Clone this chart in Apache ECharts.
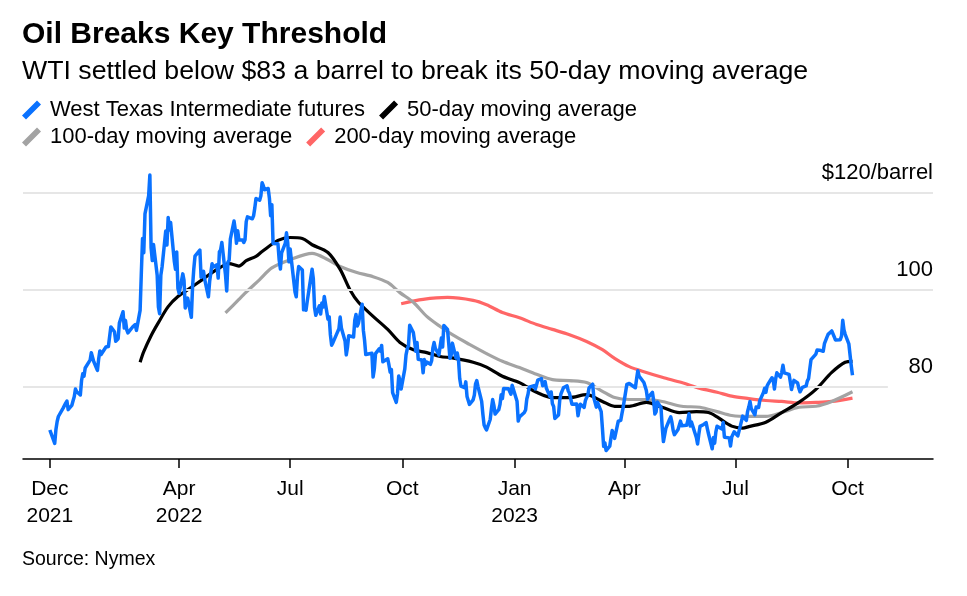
<!DOCTYPE html>
<html>
<head>
<meta charset="utf-8">
<script src="https://cdn.jsdelivr.net/npm/echarts@6/dist/echarts.min.js"></script>
<style>
html,body{margin:0;padding:0;background:#fff;}
#chart{width:967px;height:596px;}
</style>
</head>
<body>
<div id="chart"></div>
<script>
const FONT = "'Liberation Sans', Arial, sans-serif";
const titleText = 'Oil Breaks Key Threshold';
const subtitleText = 'WTI settled below $83 a barrel to break its 50-day moving average';
const sourceText = 'Source: Nymex';
const seriesNames = ['West Texas Intermediate futures', '50-day moving average', '100-day moving average', '200-day moving average'];

// x-axis ticks and labels
const xTickDates = ['2021-12-16','2022-04-01','2022-07-01','2022-10-01','2023-01-01','2023-04-01','2023-07-01','2023-10-01'];
const xTickLabels = ['Dec\n2021','Apr\n2022','Jul','Oct','Jan\n2023','Apr','Jul','Oct'];
const xAxisStart = '2021-11-24';
const xAxisEnd = '2023-12-10';
const gridShortEnd = '2023-11-03';
// y-axis ticks
const yTicks = [80, 100, 120];
const yMin = 65, yMax = 120;

// WTI daily settlements
const wtiDates = [
'2021-12-16','2021-12-17','2021-12-20','2021-12-21','2021-12-22','2021-12-23','2021-12-27','2021-12-28','2021-12-29','2021-12-30','2021-12-31',
'2022-01-03','2022-01-04','2022-01-05','2022-01-06','2022-01-07','2022-01-10','2022-01-11','2022-01-12','2022-01-13','2022-01-14','2022-01-18','2022-01-19','2022-01-20','2022-01-21','2022-01-24','2022-01-25','2022-01-26','2022-01-27','2022-01-28','2022-01-31',
'2022-02-01','2022-02-02','2022-02-03','2022-02-04','2022-02-07','2022-02-08','2022-02-09','2022-02-10','2022-02-11','2022-02-14','2022-02-15','2022-02-16','2022-02-17','2022-02-18','2022-02-22','2022-02-23','2022-02-24','2022-02-25','2022-02-28',
'2022-03-01','2022-03-02','2022-03-03','2022-03-04','2022-03-07','2022-03-08','2022-03-09','2022-03-10','2022-03-11','2022-03-14','2022-03-15','2022-03-16','2022-03-17','2022-03-18','2022-03-21','2022-03-22','2022-03-23','2022-03-24','2022-03-25','2022-03-28','2022-03-29','2022-03-30','2022-03-31',
'2022-04-01','2022-04-04','2022-04-05','2022-04-06','2022-04-07','2022-04-08','2022-04-11','2022-04-12','2022-04-13','2022-04-14','2022-04-18','2022-04-19','2022-04-20','2022-04-21','2022-04-22','2022-04-25','2022-04-26','2022-04-27','2022-04-28','2022-04-29',
'2022-05-02','2022-05-03','2022-05-04','2022-05-05','2022-05-06','2022-05-09','2022-05-10','2022-05-11','2022-05-12','2022-05-13','2022-05-16','2022-05-17','2022-05-18','2022-05-19','2022-05-20','2022-05-23','2022-05-24','2022-05-25','2022-05-26','2022-05-27','2022-05-31',
'2022-06-01','2022-06-02','2022-06-03','2022-06-06','2022-06-07','2022-06-08','2022-06-09','2022-06-10','2022-06-13','2022-06-14','2022-06-15','2022-06-16','2022-06-17','2022-06-21','2022-06-22','2022-06-23','2022-06-24','2022-06-27','2022-06-28','2022-06-29','2022-06-30',
'2022-07-01','2022-07-05','2022-07-06','2022-07-07','2022-07-08','2022-07-11','2022-07-12','2022-07-13','2022-07-14','2022-07-15','2022-07-18','2022-07-19','2022-07-20','2022-07-21','2022-07-22','2022-07-25','2022-07-26','2022-07-27','2022-07-28','2022-07-29',
'2022-08-01','2022-08-02','2022-08-03','2022-08-04','2022-08-05','2022-08-08','2022-08-09','2022-08-10','2022-08-11','2022-08-12','2022-08-15','2022-08-16','2022-08-17','2022-08-18','2022-08-19','2022-08-22','2022-08-23','2022-08-24','2022-08-25','2022-08-26','2022-08-29','2022-08-30','2022-08-31',
'2022-09-01','2022-09-02','2022-09-06','2022-09-07','2022-09-08','2022-09-09','2022-09-12','2022-09-13','2022-09-14','2022-09-15','2022-09-16','2022-09-19','2022-09-20','2022-09-21','2022-09-22','2022-09-23','2022-09-26','2022-09-27','2022-09-28','2022-09-29','2022-09-30',
'2022-10-03','2022-10-04','2022-10-05','2022-10-06','2022-10-07','2022-10-10','2022-10-11','2022-10-12','2022-10-13','2022-10-14','2022-10-17','2022-10-18','2022-10-19','2022-10-20','2022-10-21','2022-10-24','2022-10-25','2022-10-26','2022-10-27','2022-10-28','2022-10-31',
'2022-11-01','2022-11-02','2022-11-03','2022-11-04','2022-11-07','2022-11-08','2022-11-09','2022-11-10','2022-11-11','2022-11-14','2022-11-15','2022-11-16','2022-11-17','2022-11-18','2022-11-21','2022-11-22','2022-11-23','2022-11-25','2022-11-28','2022-11-29','2022-11-30',
'2022-12-01','2022-12-02','2022-12-05','2022-12-06','2022-12-07','2022-12-08','2022-12-09','2022-12-12','2022-12-13','2022-12-14','2022-12-15','2022-12-16','2022-12-19','2022-12-20','2022-12-21','2022-12-22','2022-12-23','2022-12-27','2022-12-28','2022-12-29','2022-12-30',
'2023-01-03','2023-01-04','2023-01-05','2023-01-06','2023-01-09','2023-01-10','2023-01-11','2023-01-12','2023-01-13','2023-01-17','2023-01-18','2023-01-19','2023-01-20','2023-01-23','2023-01-24','2023-01-25','2023-01-26','2023-01-27','2023-01-30','2023-01-31',
'2023-02-01','2023-02-02','2023-02-03','2023-02-06','2023-02-07','2023-02-08','2023-02-09','2023-02-10','2023-02-13','2023-02-14','2023-02-15','2023-02-16','2023-02-17','2023-02-21','2023-02-22','2023-02-23','2023-02-24','2023-02-27','2023-02-28',
'2023-03-01','2023-03-02','2023-03-03','2023-03-06','2023-03-07','2023-03-08','2023-03-09','2023-03-10','2023-03-13','2023-03-14','2023-03-15','2023-03-16','2023-03-17','2023-03-20','2023-03-21','2023-03-22','2023-03-23','2023-03-24','2023-03-27','2023-03-28','2023-03-29','2023-03-30','2023-03-31',
'2023-04-03','2023-04-04','2023-04-05','2023-04-06','2023-04-10','2023-04-11','2023-04-12','2023-04-13','2023-04-14','2023-04-17','2023-04-18','2023-04-19','2023-04-20','2023-04-21','2023-04-24','2023-04-25','2023-04-26','2023-04-27','2023-04-28',
'2023-05-01','2023-05-02','2023-05-03','2023-05-04','2023-05-05','2023-05-08','2023-05-09','2023-05-10','2023-05-11','2023-05-12','2023-05-15','2023-05-16','2023-05-17','2023-05-18','2023-05-19','2023-05-22','2023-05-23','2023-05-24','2023-05-25','2023-05-26','2023-05-30','2023-05-31',
'2023-06-01','2023-06-02','2023-06-05','2023-06-06','2023-06-07','2023-06-08','2023-06-09','2023-06-12','2023-06-13','2023-06-14','2023-06-15','2023-06-16','2023-06-20','2023-06-21','2023-06-22','2023-06-23','2023-06-26','2023-06-27','2023-06-28','2023-06-29','2023-06-30',
'2023-07-03','2023-07-05','2023-07-06','2023-07-07','2023-07-10','2023-07-11','2023-07-12','2023-07-13','2023-07-14','2023-07-17','2023-07-18','2023-07-19','2023-07-20','2023-07-21','2023-07-24','2023-07-25','2023-07-26','2023-07-27','2023-07-28','2023-07-31',
'2023-08-01','2023-08-02','2023-08-03','2023-08-04','2023-08-07','2023-08-08','2023-08-09','2023-08-10','2023-08-11','2023-08-14','2023-08-15','2023-08-16','2023-08-17','2023-08-18','2023-08-21','2023-08-22','2023-08-23','2023-08-24','2023-08-25','2023-08-28','2023-08-29','2023-08-30','2023-08-31',
'2023-09-01','2023-09-05','2023-09-06','2023-09-07','2023-09-08','2023-09-11','2023-09-12','2023-09-13','2023-09-14','2023-09-15','2023-09-18','2023-09-19','2023-09-20','2023-09-21','2023-09-22','2023-09-25','2023-09-26','2023-09-27','2023-09-28','2023-09-29',
'2023-10-02','2023-10-03','2023-10-04','2023-10-05'
];
const wtiValues = [
71.0,70.86,68.23,71.12,72.76,73.79,75.57,75.98,76.56,76.99,75.21,
76.08,76.99,77.85,79.46,78.90,78.23,81.22,82.64,82.12,83.82,85.43,86.96,86.90,85.14,83.31,85.60,87.35,86.61,86.82,88.15,
88.20,88.26,90.27,92.31,91.32,89.36,89.66,89.88,93.10,95.46,92.07,93.66,91.76,91.07,92.35,92.10,92.81,91.59,95.72,
103.41,110.60,107.67,115.68,119.40,123.70,108.70,106.02,109.33,103.01,96.44,95.04,102.98,104.70,112.12,109.27,114.93,112.34,113.90,105.96,104.24,107.82,100.28,
99.27,103.28,101.96,96.23,96.03,98.26,94.29,100.60,104.25,106.95,108.21,102.56,102.75,103.79,102.07,98.54,101.70,102.02,105.36,104.69,
105.17,102.41,107.81,108.26,109.77,103.09,99.76,105.71,106.13,110.49,114.20,112.40,109.59,112.21,110.28,110.29,109.77,110.33,114.09,115.07,114.67,
115.26,116.87,118.87,118.50,119.41,122.11,121.51,120.67,120.93,118.93,115.31,117.59,109.56,109.52,106.19,104.27,107.62,109.57,111.76,109.78,105.76,
108.43,99.50,98.53,102.73,104.79,104.09,95.84,96.30,95.78,97.59,102.60,104.22,102.26,96.35,94.70,96.70,94.98,97.26,96.42,98.62,
93.89,94.42,90.66,88.54,89.01,90.76,90.50,91.93,94.34,92.09,89.41,86.53,88.11,90.50,90.77,90.23,93.74,94.89,92.52,93.06,97.01,91.64,89.55,
86.61,86.87,86.88,81.94,83.54,86.79,87.78,87.31,88.48,85.10,85.11,85.73,84.45,82.94,83.49,78.74,76.71,78.50,82.15,81.23,79.49,
83.63,86.52,87.76,88.45,92.64,91.13,89.35,87.27,89.11,85.61,85.46,82.82,85.55,84.51,85.05,84.58,85.32,87.91,89.08,87.90,86.53,
88.37,90.00,88.17,92.61,91.79,88.91,85.83,86.47,88.96,85.87,86.92,85.59,81.64,80.08,79.73,80.95,77.94,76.28,77.24,78.20,80.55,
81.22,79.98,76.93,74.25,72.01,71.46,71.02,73.17,75.39,77.28,76.11,74.29,75.19,76.23,78.29,77.49,79.56,79.53,78.96,78.40,80.26,
76.93,72.84,73.67,73.77,74.63,75.12,77.41,78.39,79.86,80.18,79.48,80.33,81.31,81.62,80.13,80.15,81.01,79.68,77.90,78.87,
76.41,75.88,73.39,74.11,77.14,78.47,78.06,79.72,80.14,79.06,78.59,78.49,76.34,76.36,73.95,75.39,76.32,75.68,77.05,
77.69,78.16,79.68,80.46,77.58,76.66,75.72,76.68,74.80,71.33,67.61,68.35,66.74,67.64,69.33,70.90,69.96,69.26,72.81,73.20,72.97,74.37,75.67,
80.42,80.71,80.61,80.70,79.74,81.53,83.26,82.16,82.52,80.83,80.86,79.16,77.37,77.87,78.76,77.07,74.30,74.76,76.78,
75.66,71.66,68.60,68.56,71.34,73.16,73.71,72.56,70.87,70.04,71.11,70.86,72.83,71.86,71.55,71.99,72.91,74.34,71.83,72.67,69.46,68.09,
70.10,71.74,72.15,71.74,72.53,71.29,70.17,67.12,69.42,68.27,70.62,71.78,71.19,72.53,69.51,69.16,69.37,67.70,69.56,69.86,70.64,
69.79,71.79,71.80,73.86,72.99,74.83,75.75,76.89,75.42,74.15,75.75,75.35,75.63,77.07,78.74,79.63,78.78,80.09,80.58,81.80,
81.37,79.49,81.55,82.82,81.94,82.92,84.40,82.82,83.19,82.51,80.99,79.38,80.39,81.25,80.72,79.64,78.89,79.05,79.83,80.10,81.16,81.63,83.63,
85.55,86.69,87.54,87.87,87.51,87.29,88.84,88.52,90.16,90.77,91.48,91.20,90.28,89.63,90.03,89.68,90.39,93.68,91.71,90.79,
88.82,89.23,84.22,82.31
];

// Moving averages
const ma50Dates = ['2022-02-28','2022-03-03','2022-03-09','2022-03-15','2022-03-23','2022-03-31','2022-04-11','2022-04-20','2022-05-02','2022-05-12','2022-05-20','2022-05-26','2022-06-03','2022-06-08','2022-06-21','2022-07-01','2022-07-11','2022-07-19','2022-08-01','2022-08-11','2022-08-19','2022-08-26','2022-09-07','2022-09-19','2022-09-29','2022-10-10','2022-10-21','2022-11-01','2022-11-11','2022-11-28','2022-12-09','2022-12-22','2023-01-05','2023-01-19','2023-02-01','2023-02-15','2023-03-01','2023-03-14','2023-03-24','2023-04-05','2023-04-19','2023-05-02','2023-05-16','2023-05-30','2023-06-09','2023-06-16','2023-06-28','2023-07-07','2023-07-12','2023-07-26','2023-08-08','2023-08-22','2023-09-05','2023-09-18','2023-09-29','2023-10-05'];
const ma50Values = [85.0,87.2,90.5,93.2,96.5,98.6,100.5,102.1,104.2,105.4,104.9,106.0,106.9,107.9,110.2,110.8,110.6,109.3,107.7,104.2,100.0,97.4,94.5,91.8,89.1,87.6,87.0,86.2,85.9,85.0,84.0,82.1,80.8,78.8,77.7,77.7,78.3,76.9,75.9,75.9,76.7,75.7,74.6,74.8,74.6,73.7,71.8,71.4,71.7,72.6,74.6,76.7,79.4,82.9,85.0,85.2];

const ma100Dates = ['2022-05-09','2022-05-20','2022-05-26','2022-06-06','2022-06-16','2022-07-01','2022-07-19','2022-08-01','2022-08-11','2022-08-24','2022-09-07','2022-09-19','2022-09-29','2022-10-10','2022-10-21','2022-11-01','2022-11-11','2022-11-25','2022-12-09','2022-12-22','2023-01-05','2023-01-19','2023-02-01','2023-02-15','2023-03-01','2023-03-14','2023-03-24','2023-04-05','2023-04-19','2023-05-02','2023-05-18','2023-06-02','2023-06-16','2023-06-28','2023-07-12','2023-07-26','2023-08-08','2023-08-22','2023-09-05','2023-09-18','2023-10-05'];
const ma100Values = [95.2,98.0,99.5,102.1,104.5,106.2,107.5,106.2,104.8,103.6,102.7,101.5,99.4,97.4,94.5,92.4,90.7,88.7,86.8,85.2,83.9,82.5,81.4,81.2,80.8,79.0,77.7,77.3,77.3,76.9,75.9,75.7,74.8,74.0,73.8,73.8,74.6,75.7,75.9,76.9,78.9];

const ma200Dates = ['2022-09-30','2022-10-18','2022-11-07','2022-11-28','2022-12-09','2022-12-22','2023-01-05','2023-01-19','2023-02-01','2023-02-15','2023-03-01','2023-03-14','2023-03-24','2023-04-05','2023-04-19','2023-05-02','2023-05-18','2023-06-02','2023-06-16','2023-06-28','2023-07-12','2023-07-26','2023-08-08','2023-08-22','2023-09-05','2023-09-18','2023-10-05'];
const ma200Values = [97.1,98.0,98.4,97.8,96.9,95.3,94.2,92.8,91.8,90.7,89.3,87.6,85.8,84.1,82.9,81.9,80.8,79.6,78.8,78.0,77.5,77.1,76.9,76.6,76.7,76.9,77.6];

const colors = ['#0a72ff', '#000000', '#a3a3a3', '#ff6666'];

function ts(s) { const p = s.split('-').map(Number); return Date.UTC(p[0], p[1] - 1, p[2]); }
function zip(d, v) { return d.map((x, i) => [ts(x), v[i]]); }

const xTickTs = xTickDates.map(ts);
const ICON = 'path://M0,15 L15,0 L19,4 L4,19 Z M23,19 L23,19 Z';

const gridLines = yTicks.map(v => [
  { coord: [ts(xAxisStart), v] },
  { coord: [ts(v === yTicks[0] ? gridShortEnd : xAxisEnd), v] }
]);

const legendText = { fontSize: 22, color: '#000', fontFamily: FONT, lineHeight: 22 };

const option = {
  animation: false,
  backgroundColor: '#ffffff',
  textStyle: { fontFamily: FONT },
  title: [
    { text: titleText, left: 22, top: 19, padding: 0, textStyle: { fontSize: 30, fontWeight: 'bold', color: '#000', fontFamily: FONT, lineHeight: 32 } },
    { text: subtitleText, left: 22, top: 58, padding: 0, textStyle: { fontSize: 26.7, fontWeight: 'normal', color: '#000', fontFamily: FONT, lineHeight: 28 } },
    { text: sourceText, left: 22, top: 549, padding: 0, textStyle: { fontSize: 19.5, fontWeight: 'normal', color: '#000', fontFamily: FONT, lineHeight: 22 } }
  ],
  legend: [
    { data: [seriesNames[0], seriesNames[1]], left: 22, top: 99, padding: 0, itemGap: 14, itemWidth: 23, itemHeight: 19, icon: ICON, textStyle: legendText, selectedMode: false },
    { data: [seriesNames[2], seriesNames[3]], left: 22, top: 126, padding: 0, itemGap: 14, itemWidth: 23, itemHeight: 19, icon: ICON, textStyle: legendText, selectedMode: false }
  ],
  grid: { left: 23, right: 34, top: 193, bottom: 137, containLabel: false, outerBoundsMode: 'none' },
  xAxis: {
    type: 'value',
    min: ts(xAxisStart),
    max: ts(xAxisEnd),
    axisLine: { show: true, lineStyle: { color: '#000', width: 1.5 } },
    axisTick: { show: true, length: 9, lineStyle: { color: '#000', width: 1.5 }, customValues: xTickTs },
    axisLabel: {
      customValues: xTickTs,
      fontSize: 21, color: '#000', fontFamily: FONT, lineHeight: 27, margin: 17, hideOverlap: false,
      formatter: function (val) {
        const i = xTickTs.indexOf(val);
        return i >= 0 ? xTickLabels[i] : '';
      }
    },
    splitLine: { show: false }
  },
  yAxis: {
    type: 'value',
    position: 'right',
    min: yMin, max: yMax,
    axisLine: { show: false },
    axisTick: { show: false },
    splitLine: { show: false },
    axisLabel: {
      customValues: yTicks,
      inside: true, margin: 0,
      fontSize: 22, color: '#000', fontFamily: FONT,
      verticalAlign: 'bottom', lineHeight: 40,
      formatter: function (v) { return v === yTicks[yTicks.length - 1] ? '$' + v + '/barrel' : String(v); }
    }
  },
  series: [
    {
      name: 'gridlines', type: 'line', data: [], z: 1, silent: true,
      markLine: { silent: true, symbol: ['none', 'none'], label: { show: false }, lineStyle: { color: '#e6e6e6', width: 2, type: 'solid' }, data: gridLines }
    },
    { name: seriesNames[3], type: 'line', data: zip(ma200Dates, ma200Values), showSymbol: false, smooth: 0.3, clip: false, z: 3, color: colors[3], lineStyle: { color: colors[3], width: 3.2 } },
    { name: seriesNames[2], type: 'line', data: zip(ma100Dates, ma100Values), showSymbol: false, smooth: 0.3, clip: false, z: 3, color: colors[2], lineStyle: { color: colors[2], width: 3.2 } },
    { name: seriesNames[1], type: 'line', data: zip(ma50Dates, ma50Values), showSymbol: false, smooth: 0.3, clip: false, z: 4, color: colors[1], lineStyle: { color: colors[1], width: 3.2 } },
    { name: seriesNames[0], type: 'line', data: zip(wtiDates, wtiValues), showSymbol: false, clip: false, z: 5, color: colors[0], lineStyle: { color: colors[0], width: 3.5, join: 'round' } }
  ]
};

const chart = echarts.init(document.getElementById('chart'), null, { renderer: 'canvas' });
chart.setOption(option);
</script>
</body>
</html>
